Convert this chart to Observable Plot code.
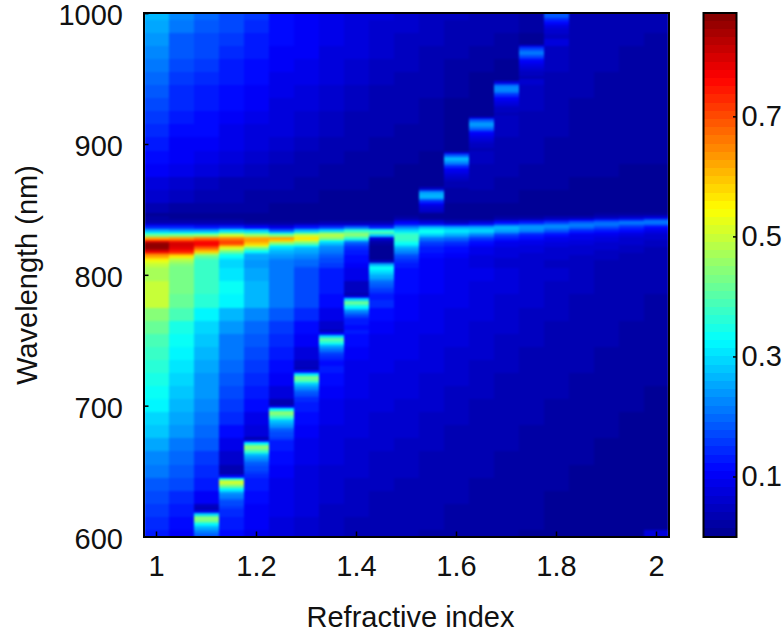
<!DOCTYPE html>
<html><head><meta charset="utf-8">
<script src="https://cdn.jsdelivr.net/npm/d3@7"></script>
<script src="https://cdn.jsdelivr.net/npm/@observablehq/plot@0.6"></script>
<style>
html,body{margin:0;padding:0;background:#fff}
#wrap{position:relative;width:783px;height:632px;overflow:hidden}
#wrap svg{position:absolute;left:0;top:0;background:transparent;overflow:visible}
</style></head><body><div id="wrap"></div>
<script>
const indices=[1,1.05,1.1,1.15,1.2,1.25,1.3,1.35,1.4,1.45,1.5,1.55,1.6,1.65,1.7,1.75,1.8,1.85,1.9,1.95,2];
const bgWavelengths=[1000,990,980,970,960,950,940,930,920,910,900,890,880,870,860,850,810,800,790,780,770,760,750,740,730,720,710,700,690,680,670,660,650,640,630,620,610,600];
const bandWavelengths=[846,844,842,840,838,836,834,832,830,828,826,824,822,820,818,816,814,812,810,808,806];

const bg_100=[.27,.25,.235,.225,.21,.195,.18,.17,.155,.14,.125,.11,.10,.08,.06,.03,.48,.47,.50,.50,.45,.42,.395,.38,.365,.35,.335,.32,.30,.28,.25,.225,.205,.19,.17,.16,.145,.13];
const bg_105=[.22,.205,.19,.18,.17,.16,.15,.14,.13,.12,.105,.10,.085,.065,.045,.025,.42,.43,.43,.42,.39,.35,.33,.32,.31,.29,.275,.26,.25,.235,.215,.20,.18,.165,.15,.135,.12,.105];
const bg_110=[.195,.185,.175,.165,.155,.145,.135,.125,.115,.11,.10,.085,.07,.05,.035,.02,.37,.37,.37,.36,.325,.295,.28,.265,.255,.245,.235,.225,.21,.195,.18,.16,.14,.125,.10,.05,.04,.17];
const bg_115=[.175,.165,.155,.145,.135,.125,.12,.11,.105,.095,.085,.07,.055,.04,.03,.02,.29,.31,.33,.32,.27,.235,.215,.205,.195,.185,.17,.155,.14,.12,.095,.065,.04,.03,.15,.14,.125,.11];
const bg_120=[.155,.145,.135,.125,.12,.11,.105,.10,.09,.08,.07,.055,.045,.035,.025,.015,.24,.25,.26,.26,.23,.20,.185,.17,.155,.145,.125,.11,.095,.07,.045,.16,.14,.125,.115,.105,.10,.09];
const bg_125=[.12,.115,.11,.105,.10,.095,.09,.08,.075,.07,.06,.05,.04,.03,.02,.012,.20,.215,.21,.21,.19,.16,.145,.13,.115,.10,.07,.04,.03,.15,.125,.11,.105,.095,.09,.085,.08,.075];
const bg_130=[.105,.105,.10,.10,.09,.085,.08,.07,.065,.06,.05,.04,.035,.025,.015,.01,.17,.175,.175,.17,.15,.12,.10,.075,.05,.04,.15,.125,.11,.10,.09,.085,.08,.075,.07,.07,.065,.06];
const bg_135=[.095,.09,.085,.08,.075,.07,.065,.06,.05,.045,.04,.03,.025,.02,.012,.008,.14,.135,.125,.11,.09,.055,.035,.15,.13,.11,.10,.09,.085,.08,.075,.07,.065,.06,.055,.05,.05,.045];
const bg_140=[.08,.075,.07,.07,.065,.06,.05,.045,.04,.035,.03,.025,.02,.015,.01,.005,.11,.085,.05,.03,.15,.125,.11,.10,.095,.09,.085,.08,.075,.07,.065,.06,.055,.05,.045,.045,.04,.04];
const bg_145=[.07,.065,.06,.055,.05,.045,.04,.035,.03,.03,.025,.02,.015,.01,.007,.005,.04,.27,.19,.14,.115,.10,.095,.09,.085,.08,.075,.07,.065,.06,.055,.05,.05,.045,.04,.04,.035,.035];
const bg_150=[.06,.055,.05,.05,.045,.04,.035,.03,.03,.025,.02,.015,.012,.008,.005,.005,.13,.115,.11,.105,.10,.095,.09,.085,.08,.075,.07,.065,.06,.055,.05,.05,.045,.04,.04,.035,.035,.03];
const bg_155=[.05,.05,.045,.04,.035,.03,.03,.025,.02,.02,.015,.012,.01,.008,.005,.02,.12,.105,.10,.095,.09,.085,.08,.075,.07,.065,.06,.055,.05,.05,.045,.04,.04,.035,.035,.03,.03,.025];
const bg_160=[.045,.04,.035,.03,.025,.02,.015,.012,.01,.006,.005,.005,.07,.045,.025,.012,.105,.095,.09,.085,.08,.07,.07,.065,.06,.055,.05,.05,.045,.04,.04,.035,.035,.03,.03,.025,.025,.02];
const bg_165=[.04,.035,.03,.025,.02,.012,.008,.005,.005,.09,.06,.05,.035,.03,.02,.01,.09,.085,.08,.075,.07,.065,.06,.055,.05,.05,.045,.04,.04,.035,.035,.03,.03,.025,.025,.02,.02,.02];
const bg_170=[.035,.03,.02,.015,.01,.005,.1,.07,.05,.045,.04,.035,.03,.025,.015,.01,.08,.075,.07,.065,.06,.055,.05,.05,.045,.04,.04,.035,.035,.03,.03,.025,.025,.02,.02,.02,.015,.015];
const bg_175=[.02,.015,.01,.15,.08,.065,.05,.045,.04,.035,.03,.03,.025,.02,.012,.008,.07,.065,.06,.055,.05,.05,.045,.04,.04,.035,.035,.03,.03,.025,.025,.02,.02,.02,.015,.015,.015,.012];
const bg_180=[.05,.09,.07,.05,.045,.04,.04,.035,.03,.03,.025,.025,.02,.015,.012,.008,.06,.055,.05,.05,.045,.04,.04,.035,.035,.03,.03,.025,.025,.02,.02,.02,.015,.015,.012,.012,.01,.01];
const bg_185=[.035,.035,.035,.03,.03,.03,.03,.025,.025,.025,.02,.02,.015,.012,.01,.006,.055,.05,.045,.04,.04,.035,.035,.03,.03,.025,.025,.02,.02,.02,.015,.015,.012,.012,.01,.01,.01,.008];
const bg_190=[.035,.035,.03,.03,.03,.025,.025,.025,.025,.02,.02,.015,.015,.01,.008,.005,.045,.04,.04,.035,.035,.03,.03,.025,.025,.02,.02,.02,.015,.015,.012,.012,.01,.01,.01,.008,.008,.008];
const bg_195=[.035,.03,.03,.025,.025,.025,.025,.02,.02,.02,.02,.015,.012,.01,.006,.005,.04,.035,.035,.03,.03,.025,.025,.02,.02,.02,.015,.015,.012,.012,.01,.01,.008,.008,.008,.006,.006,.006];
const bg_200=[.03,.03,.025,.025,.025,.02,.02,.02,.02,.02,.015,.015,.01,.008,.006,.005,.035,.03,.03,.025,.025,.02,.02,.02,.015,.015,.012,.012,.012,.01,.01,.008,.008,.008,.008,.006,.006,.07];

const band_100=[.01,.015,.02,.04,.09,.15,.25,.33,.43,.62,.74,.85,.87,.85,.78,.68,.62,.57,.53,.50,.49];
const band_105=[.01,.012,.02,.035,.09,.14,.24,.33,.45,.63,.73,.80,.80,.79,.75,.66,.56,.50,.47,.44,.43];
const band_110=[.01,.012,.015,.03,.08,.13,.24,.33,.46,.66,.74,.77,.74,.67,.60,.48,.42,.39,.375,.37,.37];
const band_115=[.008,.01,.015,.03,.08,.15,.30,.39,.51,.65,.70,.70,.61,.51,.43,.36,.33,.31,.30,.295,.29];
const band_120=[.008,.01,.012,.025,.06,.12,.28,.36,.47,.62,.63,.60,.52,.41,.34,.27,.255,.25,.245,.24,.24];
const band_125=[.006,.008,.012,.02,.05,.09,.18,.31,.45,.62,.58,.44,.34,.30,.27,.25,.235,.225,.215,.21,.21];
const band_130=[.006,.008,.01,.02,.07,.13,.26,.38,.50,.56,.50,.42,.32,.27,.25,.235,.22,.21,.20,.195,.19];
const band_135=[.005,.008,.012,.03,.08,.16,.30,.43,.49,.44,.34,.28,.24,.22,.21,.195,.185,.175,.165,.16,.155];
const band_140=[.005,.008,.012,.03,.08,.20,.36,.43,.44,.36,.25,.18,.16,.15,.135,.125,.12,.115,.11,.105,.10];
const band_145=[.005,.008,.01,.03,.07,.15,.35,.40,.28,.08,.03,.015,.008,.006,.005,.005,.005,.01,.05,.25,.33];
const band_150=[.005,.02,.05,.10,.15,.22,.30,.35,.37,.38,.36,.34,.29,.25,.22,.195,.175,.16,.145,.135,.13];
const band_155=[.005,.01,.03,.07,.14,.27,.33,.33,.28,.21,.18,.16,.145,.135,.125,.115,.11,.105,.105,.10,.10];
const band_160=[.005,.008,.02,.05,.13,.25,.31,.29,.25,.20,.17,.145,.125,.115,.11,.105,.10,.095,.09,.09,.085];
const band_165=[.005,.01,.025,.07,.15,.25,.29,.27,.21,.16,.13,.11,.10,.095,.09,.085,.08,.08,.075,.075,.07];
const band_170=[.005,.015,.045,.11,.20,.26,.25,.21,.16,.125,.105,.09,.085,.08,.075,.07,.07,.065,.065,.06,.06];
const band_175=[.008,.025,.06,.13,.21,.24,.22,.17,.135,.11,.095,.085,.08,.075,.07,.065,.065,.06,.06,.055,.055];
const band_180=[.01,.03,.08,.16,.22,.22,.18,.14,.115,.095,.085,.08,.07,.065,.06,.06,.055,.055,.05,.05,.05];
const band_185=[.012,.04,.10,.18,.22,.20,.15,.115,.095,.085,.075,.07,.065,.06,.055,.055,.05,.05,.045,.045,.045];
const band_190=[.015,.05,.13,.20,.21,.17,.13,.10,.085,.075,.07,.06,.055,.055,.05,.05,.045,.045,.04,.04,.04];
const band_195=[.02,.06,.15,.21,.19,.14,.11,.09,.075,.065,.06,.055,.05,.045,.045,.04,.04,.04,.04,.035,.035];
const band_200=[.025,.08,.18,.21,.17,.12,.095,.08,.065,.06,.05,.05,.045,.04,.04,.04,.035,.035,.035,.03,.03];

const resonanceIndices=[1.1,1.15,1.2,1.25,1.3,1.35,1.4,1.45,1.55,1.6,1.65,1.7,1.75,1.8];
const resonanceTops=[621,648,675,701,728,757,785,804,868,895,922,949,977,1005];
const res_110=[.03,.09,.30,.43,.45,.40,.32,.27,.24,.215,.19,.175];
const res_115=[.03,.12,.34,.50,.50,.42,.32,.26,.23,.205,.19,.175,.165,.155];
const res_120=[.03,.11,.32,.45,.44,.38,.30,.255,.23,.20,.185,.175,.165,.155];
const res_125=[.03,.12,.32,.44,.43,.38,.30,.26,.235,.205,.19,.175,.165,.155];
const res_130=[.03,.12,.31,.43,.42,.36,.28,.24,.21,.185,.165,.15,.14,.13];
const res_135=[.03,.10,.30,.42,.38,.32,.25,.21,.18,.155,.14,.13,.12,.115];
const res_140=[.03,.10,.30,.41,.37,.32,.25,.21,.17,.15,.135,.125,.12,.115];
const res_145=[.32,.29,.27,.25,.22,.20,.185,.17,.155,.145,.135,.125];
const res_155=[.01,.05,.18,.25,.27,.22,.15,.10,.08,.06,.05,.04,.03,.02];
const res_160=[.01,.08,.19,.26,.25,.21,.15,.10,.085,.07,.06,.05,.04,.035,.03,.025];
const res_165=[.01,.08,.19,.24,.24,.20,.15,.10,.085,.07,.06,.05,.045,.04];
const res_170=[.01,.08,.18,.22,.23,.19,.14,.10,.085,.07,.06,.05,.045,.04];
const res_175=[.01,.07,.16,.20,.21,.17,.13,.10,.085,.07,.06,.05,.045,.04];
const res_180=[.01,.03,.13,.18,.18,.15,.11,.09,.075,.065,.055,.05,.045];

const bgColumns=[bg_100,bg_105,bg_110,bg_115,bg_120,bg_125,bg_130,bg_135,bg_140,bg_145,bg_150,bg_155,bg_160,bg_165,bg_170,bg_175,bg_180,bg_185,bg_190,bg_195,bg_200];
const bandColumns=[band_100,band_105,band_110,band_115,band_120,band_125,band_130,band_135,band_140,band_145,band_150,band_155,band_160,band_165,band_170,band_175,band_180,band_185,band_190,band_195,band_200];
const resColumns=[res_110,res_115,res_120,res_125,res_130,res_135,res_140,res_145,res_155,res_160,res_165,res_170,res_175,res_180];

const bgCells=indices.flatMap((n,i)=>bgWavelengths.map((w,j)=>({n,w1:w-5,w2:w+5,v:bgColumns[i][j]})));
const resCells=resonanceIndices.flatMap((n,i)=>resColumns[i].map((v,j)=>({n,w1:resonanceTops[i]-2*j-1,w2:resonanceTops[i]-2*j+1,v})));
const bandCells=indices.flatMap((n,i)=>bandWavelengths.map((w,j)=>({n,w1:w-1,w2:w+1,v:bandColumns[i][j]})));
const cells=[...bgCells,...resCells,...bandCells];

const vMax=0.873;
const jetStops=[0,.125,.375,.625,.875,1];
const jetColors=["#00008f","#0000ff","#00ffff","#ffff00","#ff0000","#800000"];
const jet=d3.scaleLinear().domain(jetStops).range(jetColors).interpolate(d3.interpolateRgb);
const nLevels=64;
const levels=d3.range(nLevels);
const palette=levels.map(i=>jet((i+.5)/nLevels));
const thresholds=levels.slice(1).map(i=>i/nLevels*vMax);
const colorScale={type:"threshold",domain:thresholds,range:palette};

const font="'Liberation Sans',Arial,sans-serif";
const fs=29;
const main=Plot.plot({
  width:672,height:632,marginLeft:143.5,marginRight:3.5,marginTop:12.5,marginBottom:95.5,
  style:{fontFamily:font,fontSize:fs+"px",color:"#111",background:"transparent"},
  x:{domain:[.975,2.025],label:null},
  y:{domain:[600,1000.5],label:null},
  color:colorScale,
  marks:[
    Plot.rect(cells,{x1:d=>d.n-.025,x2:d=>d.n+.025,y1:"w1",y2:"w2",fill:"v",shapeRendering:"crispEdges",clip:true,imageFilter:"blur(0.8px)"}),
    Plot.frame({stroke:"#000",strokeWidth:2}),
    Plot.axisX({ticks:[1,1.2,1.4,1.6,1.8,2],tickFormat:d=>String(d),tickSize:-5,tickPadding:23,strokeWidth:1.5,stroke:"#000",fill:"#111",fontSize:fs,label:null}),
    Plot.axisY({ticks:[600,700,800,900,1000],tickFormat:()=>"",tickSize:-5,tickPadding:26,strokeWidth:1.5,stroke:"#000",label:null}),
    Plot.axisY({ticks:[600,700,800,900,1000],tickFormat:d=>String(d),tickSize:0,tickPadding:21,dy:2.5,stroke:"none",fill:"#111",fontSize:fs,label:null}),
    Plot.text(["Refractive index"],{frameAnchor:"bottom",dy:90,dx:4,fontSize:fs,fill:"#111"}),
    Plot.text(["Wavelength (nm)"],{frameAnchor:"left",textAnchor:"middle",dx:-116,rotate:-90,fontSize:fs,fill:"#111"})
  ]
});
const barEdges=levels.map(i=>({y1:i/nLevels*vMax,y2:(i+1)/nLevels*vMax,v:(i+.5)/nLevels*vMax}));
const bar=Plot.plot({
  width:783,height:632,marginLeft:703,marginRight:47,marginTop:12.5,marginBottom:95.5,
  style:{fontFamily:font,fontSize:fs+"px",color:"#111",background:"transparent"},
  x:{domain:[0,1],axis:null},
  y:{domain:[0,vMax],axis:null},
  color:colorScale,
  marks:[
    Plot.rect(barEdges,{x1:0,x2:1,y1:"y1",y2:"y2",fill:"v",shapeRendering:"crispEdges"}),
    Plot.frame({stroke:"#000",strokeWidth:2}),
    Plot.axisY({anchor:"right",ticks:[.1,.3,.5,.7],tickFormat:d=>String(d),tickSize:-4,tickPadding:9,strokeWidth:1.5,stroke:"#000",fill:"#111",fontSize:fs,label:null})
  ]
});
const wrap=document.getElementById("wrap");
wrap.appendChild(main);
wrap.appendChild(bar);
</script></body></html>
